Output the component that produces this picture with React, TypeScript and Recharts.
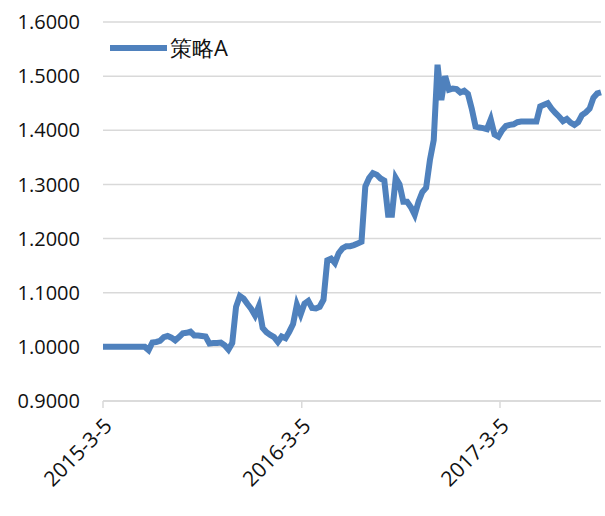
import { CartesianGrid, Line, LineChart, XAxis, YAxis } from "recharts";

const seriesName = "策略A";

const dates: string[] = [
  "2015-03-05", "2015-05-21", "2015-05-28", "2015-06-04", "2015-06-11", "2015-06-18",
  "2015-06-25", "2015-07-02", "2015-07-09", "2015-07-16", "2015-07-23", "2015-07-30",
  "2015-08-06", "2015-08-13", "2015-08-20", "2015-08-27", "2015-09-03", "2015-09-10",
  "2015-09-17", "2015-09-24", "2015-10-01", "2015-10-08", "2015-10-15", "2015-10-22",
  "2015-10-29", "2015-11-05", "2015-11-12", "2015-11-19", "2015-11-26", "2015-12-03",
  "2015-12-10", "2015-12-17", "2015-12-24", "2015-12-31", "2016-01-07", "2016-01-14",
  "2016-01-21", "2016-01-28", "2016-02-04", "2016-02-11", "2016-02-18", "2016-02-25",
  "2016-03-03", "2016-03-10", "2016-03-17", "2016-03-24", "2016-03-31", "2016-04-07",
  "2016-04-14", "2016-04-21", "2016-04-28", "2016-05-05", "2016-05-12", "2016-05-19",
  "2016-05-26", "2016-06-02", "2016-06-09", "2016-06-16", "2016-06-23", "2016-06-30",
  "2016-07-07", "2016-07-14", "2016-07-21", "2016-07-28", "2016-08-04", "2016-08-11",
  "2016-08-18", "2016-08-25", "2016-09-01", "2016-09-08", "2016-09-15", "2016-09-22",
  "2016-09-29", "2016-10-06", "2016-10-13", "2016-10-20", "2016-10-27", "2016-11-03",
  "2016-11-10", "2016-11-17", "2016-11-24", "2016-12-01", "2016-12-08", "2016-12-15",
  "2016-12-22", "2016-12-29", "2017-01-05", "2017-01-12", "2017-01-19", "2017-01-26",
  "2017-02-02", "2017-02-09", "2017-02-16", "2017-02-23", "2017-03-02", "2017-03-09",
  "2017-03-16", "2017-03-23", "2017-03-30", "2017-04-06", "2017-04-13", "2017-05-11",
  "2017-05-18", "2017-05-25", "2017-06-01", "2017-06-08", "2017-06-15", "2017-06-22",
  "2017-06-29", "2017-07-06", "2017-07-13", "2017-07-20", "2017-07-27", "2017-08-03",
  "2017-08-10", "2017-08-17", "2017-08-24", "2017-08-31", "2017-09-07",
];

const navA: number[] = [
  1.0, 1.0, 0.994, 1.008, 1.009, 1.011,
  1.018, 1.02, 1.017, 1.012, 1.018, 1.025,
  1.026, 1.028, 1.021, 1.021, 1.02, 1.019,
  1.006, 1.007, 1.007, 1.008, 1.003, 0.995,
  1.007, 1.074, 1.094, 1.089, 1.079, 1.07,
  1.058, 1.075, 1.035, 1.027, 1.022, 1.018,
  1.009, 1.019, 1.016, 1.028, 1.042, 1.078,
  1.06, 1.08, 1.085, 1.072, 1.071, 1.074,
  1.087, 1.16, 1.163, 1.155, 1.173, 1.182,
  1.186, 1.186, 1.188, 1.191, 1.194, 1.296,
  1.312, 1.321, 1.318, 1.311, 1.307, 1.244,
  1.244, 1.312, 1.3, 1.268, 1.268, 1.258,
  1.244, 1.268, 1.286, 1.294, 1.345, 1.382,
  1.521, 1.456, 1.5, 1.475, 1.477, 1.476,
  1.47, 1.473, 1.467, 1.44, 1.407, 1.405,
  1.404, 1.402, 1.42, 1.392, 1.388, 1.4,
  1.408, 1.41, 1.411, 1.415, 1.416, 1.416,
  1.444, 1.447, 1.45, 1.44, 1.432, 1.425,
  1.417, 1.421, 1.414, 1.41, 1.415, 1.428,
  1.433, 1.44, 1.46, 1.468, 1.47,
];

const xTickDates = ["2015-03-05", "2016-03-05", "2017-03-05"];
const yTicks = [0.9, 1.0, 1.1, 1.2, 1.3, 1.4, 1.5, 1.6];

const toTime = (d: string) => Date.parse(d);
const fmtDate = (t: number) => {
  const d = new Date(t);
  return `${d.getUTCFullYear()}-${d.getUTCMonth() + 1}-${d.getUTCDate()}`;
};

const data = dates.map((d, i) => ({ t: toTime(d), value: navA[i] }));

const FONT = "'Open Sans', 'Liberation Sans', sans-serif";

const DateTick = (props: any) => {
  const { x, y, payload } = props;
  return (
    <g transform={`translate(${x + 5},${y + 12})`}>
      <text
        transform="rotate(-45)"
        textAnchor="end"
        dy="0.35em"
        fontSize={21}
        fontFamily={FONT}
        fill="#111"
      >
        {fmtDate(payload.value)}
      </text>
    </g>
  );
};

export default function App() {
  return (
    <div style={{ position: "absolute", left: 0, top: 0, width: 605, height: 516, background: "#fff" }}>
      <LineChart
        width={605}
        height={516}
        data={data}
        margin={{ top: 22, right: 4, bottom: 0, left: 0 }}
      >
        <CartesianGrid vertical={false} stroke="#d9d9d9" strokeWidth={1.5} />
        <XAxis
          dataKey="t"
          type="number"
          scale="time"
          domain={[data[0].t, data[data.length - 1].t]}
          ticks={xTickDates.map(toTime)}
          tick={<DateTick />}
          height={115}
          stroke="#d9d9d9"
          strokeWidth={1.5}
          tickSize={7}
          interval={0}
        />
        <YAxis
          type="number"
          domain={[0.9, 1.6]}
          ticks={yTicks}
          tickFormatter={(v: number) => v.toFixed(4)}
          width={103}
          axisLine={false}
          tickLine={false}
          tickSize={15}
          tickMargin={8}
          tick={{ fontSize: 20, fontFamily: FONT, fill: "#111" }}
        />
        <Line
          type="linear"
          dataKey="value"
          name={seriesName}
          stroke="#4f81bd"
          strokeWidth={6}
          dot={false}
          isAnimationActive={false}
        />
      </LineChart>
      <div
        style={{
          position: "absolute",
          left: 110,
          top: 32,
          display: "flex",
          alignItems: "center",
          fontFamily: FONT,
          fontSize: 22,
          color: "#111",
        }}
      >
        <svg width={57} height={8} style={{ marginRight: 3 }}>
          <line x1={1} y1={4} x2={56} y2={4} stroke="#4f81bd" strokeWidth={6} strokeLinecap="round" />
        </svg>
        <span>{seriesName}</span>
      </div>
    </div>
  );
}
